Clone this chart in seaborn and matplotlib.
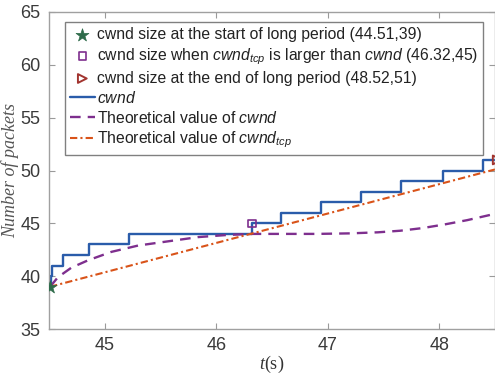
import numpy as np
import pandas as pd
import matplotlib
matplotlib.use("Agg")
import matplotlib.pyplot as plt
import seaborn as sns

# Measured congestion window (step changes: time, packets)
cwnd_t = [44.51, 44.515, 44.53, 44.63, 44.86, 45.22, 46.32, 46.58, 46.94, 47.30, 47.66, 48.03, 48.39, 48.52]
cwnd_v = [39, 40, 41, 42, 43, 44, 45, 46, 47, 48, 49, 50, 51, 51]

# Theoretical cwnd
theo_t = [44.51, 44.58, 44.70, 44.85, 45.06, 45.30, 45.57, 45.84, 46.10, 46.32,
          46.60, 46.90, 47.20, 47.45, 47.65, 47.85, 48.05, 48.25, 48.50]
theo_v = [39.0, 39.9, 40.8, 41.5, 42.3, 42.9, 43.3, 43.7, 43.9, 44.0,
          44.0, 44.0, 44.05, 44.15, 44.3, 44.55, 44.9, 45.3, 45.9]

# Theoretical cwnd_tcp
tcp_t = [44.51, 48.50]
tcp_v = [39.0, 50.1]

# Marked points
start_pt = (44.51, 39)
cross_pt = (46.32, 45)
end_pt = (48.52, 51)

xticks = [45, 46, 47, 48]
yticks = [35, 40, 45, 50, 55, 60, 65]

sns.set_style("ticks")
plt.rcParams["font.family"] = ["Liberation Sans", "DejaVu Sans"]
plt.rcParams["mathtext.fontset"] = "custom"
plt.rcParams["mathtext.it"] = "Liberation Sans:italic"
plt.rcParams["mathtext.rm"] = "Liberation Sans"
plt.rcParams["mathtext.cal"] = "Liberation Serif:italic"

fig = plt.figure(figsize=(4.95, 3.78), dpi=100)
ax = fig.add_axes([49 / 495, 1 - 329 / 378, 446 / 495, 317 / 378])

blue = "#2a5caa"
purple = "#7e2f8e"
orange = "#d95319"

df_cwnd = pd.DataFrame({"t": cwnd_t, "v": cwnd_v})
df_theo = pd.DataFrame({"t": theo_t, "v": theo_v})
df_tcp = pd.DataFrame({"t": tcp_t, "v": tcp_v})

sns.scatterplot(x=[start_pt[0]], y=[start_pt[1]], ax=ax, marker="*", s=95,
                color="#2e6b4a", edgecolor="#2e6b4a", linewidth=0.5, zorder=5,
                label="cwnd size at the start of long period (44.51,39)")
sns.scatterplot(x=[cross_pt[0]], y=[cross_pt[1]], ax=ax, marker="s", s=30,
                facecolor="none", edgecolor=purple, linewidth=1.2, zorder=5,
                label=r"cwnd size when $\mathit{cwnd}_{\mathit{tcp}}$ is larger than $\mathit{cwnd}$ (46.32,45)")
sns.scatterplot(x=[end_pt[0]], y=[end_pt[1]], ax=ax, marker=">", s=40,
                facecolor="none", edgecolor="#a2342f", linewidth=1.4, zorder=5,
                label="cwnd size at the end of long period (48.52,51)", clip_on=False)

sns.lineplot(data=df_cwnd, x="t", y="v", ax=ax, drawstyle="steps-post",
             color=blue, linewidth=1.7, label=r"$\mathit{cwnd}$", estimator=None, sort=False)
sns.lineplot(data=df_theo, x="t", y="v", ax=ax, color=purple, linewidth=1.7,
             label=r"Theoretical value of $\mathit{cwnd}$", estimator=None, sort=False)
ax.lines[-1].set_dashes([4.5, 3])
sns.lineplot(data=df_tcp, x="t", y="v", ax=ax, color=orange, linewidth=1.5,
             label=r"Theoretical value of $\mathit{cwnd}_{\mathit{tcp}}$", estimator=None, sort=False)
ax.lines[-1].set_dashes([3.5, 1.5, 1, 1.5])

ax.set_xlim(44.5, 48.5)
ax.set_ylim(35, 65)
ax.set_xticks(xticks)
ax.set_yticks(yticks)
ax.tick_params(direction="in", length=4, width=0.8, top=True, right=True,
               labelsize=13, colors="#9a9a9a", labelcolor="#3a3a3a", pad=6)
for side in ["left", "right", "top", "bottom"]:
    ax.spines[side].set_visible(True)
    ax.spines[side].set_color("#a0a0a0")
    ax.spines[side].set_linewidth(1.0)

ax.set_xlabel(r"$\mathcal{t}$(s)", fontfamily="Liberation Serif", fontsize=13,
              color="#333333", labelpad=0)
ax.set_ylabel("Number of packets", fontfamily="Liberation Serif", fontstyle="italic",
              fontsize=13, color="#555555", labelpad=1)

handles, labels = ax.get_legend_handles_labels()
leg = ax.legend(handles, labels, loc="upper left", bbox_to_anchor=(0.036, 0.968),
                fontsize=11.3, frameon=True, fancybox=False, framealpha=1,
                edgecolor="#808080", handlelength=1.6, handletextpad=0.15,
                labelspacing=0.26, borderpad=0.3, borderaxespad=0)
leg.get_frame().set_linewidth(1.0)
for txt in leg.get_texts():
    txt.set_color("#222222")

fig.savefig("out.png", dpi=100)
